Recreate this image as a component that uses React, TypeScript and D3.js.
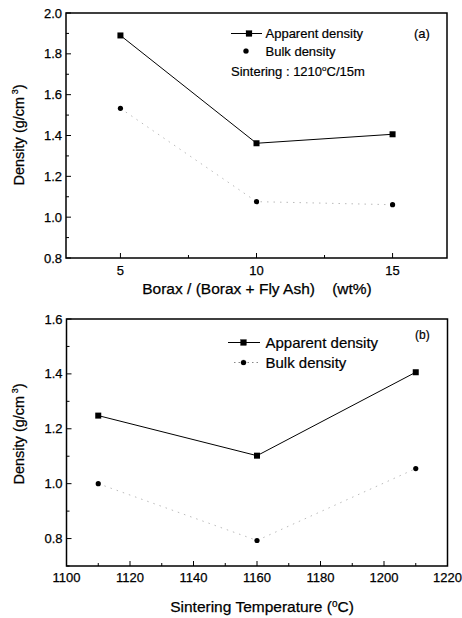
import React from "react";
import * as d3 from "d3";

const boraxX = [5, 10, 15];
const apparentA = [1.89, 1.362, 1.406];
const bulkA = [1.533, 1.076, 1.061];
const xTicksA = [5, 10, 15];
const yTicksA = [0.8, 1.0, 1.2, 1.4, 1.6, 1.8, 2.0];

const tempX = [1110, 1160, 1210];
const apparentB = [1.248, 1.102, 1.406];
const bulkB = [1.0, 0.793, 1.055];
const xTicksB = [1100, 1120, 1140, 1160, 1180, 1200, 1220];
const yTicksB = [0.8, 1.0, 1.2, 1.4, 1.6];

const FONT = "Liberation Sans, Arial, sans-serif";

type PanelProps = {
  x: d3.ScaleLinear<number, number>;
  y: d3.ScaleLinear<number, number>;
  xs: number[];
  app: number[];
  bulk: number[];
  xTicks: number[];
  xMinor: number[];
  yTicks: number[];
  yMinor: number[];
  yFmt: (v: number) => string;
  xLabel: React.ReactNode;
  xLabelY: number;
  xLabelX: number;
  tickLabelY: number;
  yLabelCy: number;
};

function Panel(p: PanelProps) {
  const [x0, x1] = p.x.range();
  const [y0, y1] = p.y.range();
  const line = d3
    .line<number>()
    .x((_, i) => p.x(p.xs[i]))
    .y((d) => p.y(d));
  return (
    <g>
      <rect x={x0} y={y1} width={x1 - x0} height={y0 - y1} fill="none" stroke="#000" strokeWidth={1.5} />
      {p.yTicks.map((t) => (
        <g key={"y" + t}>
          <line x1={x0} x2={x0 + 5} y1={p.y(t)} y2={p.y(t)} stroke="#000" />
          <text x={x0 - 4} y={p.y(t) + 4.5} textAnchor="end" fontSize={13} fontFamily={FONT} stroke="#000" strokeWidth={0.25}>
            {p.yFmt(t)}
          </text>
        </g>
      ))}
      {p.yMinor.map((t) => (
        <line key={"ym" + t} x1={x0} x2={x0 + 3} y1={p.y(t)} y2={p.y(t)} stroke="#000" />
      ))}
      {p.xTicks.map((t) => (
        <g key={"x" + t}>
          <line x1={p.x(t)} x2={p.x(t)} y1={y0} y2={y0 - 5} stroke="#000" />
          <text x={p.x(t)} y={p.tickLabelY} textAnchor="middle" fontSize={13} fontFamily={FONT} stroke="#000" strokeWidth={0.25}>
            {t}
          </text>
        </g>
      ))}
      {p.xMinor.map((t) => (
        <line key={"xm" + t} x1={p.x(t)} x2={p.x(t)} y1={y0} y2={y0 - 3} stroke="#000" />
      ))}
      <path d={line(p.app) || ""} fill="none" stroke="#000" strokeWidth={1} />
      <path d={line(p.bulk) || ""} fill="none" stroke="#bbb" strokeWidth={1} strokeDasharray="1.5,5" />
      {p.app.map((v, i) => (
        <rect key={"a" + i} x={p.x(p.xs[i]) - 3} y={p.y(v) - 3} width={6} height={6} fill="#000" />
      ))}
      {p.bulk.map((v, i) => (
        <circle key={"b" + i} cx={p.x(p.xs[i])} cy={p.y(v)} r={2.6} fill="#000" />
      ))}
      <text x={p.xLabelX} y={p.xLabelY} textAnchor="middle" fontSize={15.5} fontFamily={FONT} xmlSpace="preserve" stroke="#000" strokeWidth={0.25}>
        {p.xLabel}
      </text>
      <text
        transform={`translate(24,${p.yLabelCy}) rotate(-90)`}
        textAnchor="middle"
        fontSize={14.5}
        fontFamily={FONT}
        stroke="#000"
        strokeWidth={0.25}
      >
        Density (g/cm<tspan dy={-6} fontSize={9}> 3</tspan>
        <tspan dy={6}>)</tspan>
      </text>
    </g>
  );
}

export default function App() {
  const xA = d3.scaleLinear().domain([3, 17]).range([66, 447]);
  const yA = d3.scaleLinear().domain([0.8, 2.0]).range([258, 13]);
  const xB = d3.scaleLinear().domain([1100, 1220]).range([66.5, 447.5]);
  const yB = d3.scaleLinear().domain([0.7, 1.6]).range([566, 319]);
  const fmt = d3.format(".1f");
  return (
    <svg width={462} height={618} style={{ position: "absolute", left: 0, top: 0, background: "#fff" }}>
      <Panel
        x={xA}
        y={yA}
        xs={boraxX}
        app={apparentA}
        bulk={bulkA}
        xTicks={xTicksA}
        xMinor={[7.5, 12.5]}
        yTicks={yTicksA}
        yMinor={[0.9, 1.1, 1.3, 1.5, 1.7, 1.9]}
        yFmt={fmt}
        xLabel={"Borax / (Borax + Fly Ash)    (wt%)"}
        xLabelX={257}
        xLabelY={294}
        tickLabelY={275}
        yLabelCy={135}
      />
      <Panel
        x={xB}
        y={yB}
        xs={tempX}
        app={apparentB}
        bulk={bulkB}
        xTicks={xTicksB}
        xMinor={[1110, 1130, 1150, 1170, 1190, 1210]}
        yTicks={yTicksB}
        yMinor={[0.7, 0.9, 1.1, 1.3, 1.5]}
        yFmt={fmt}
        xLabel={
          <>
            Sintering Temperature (<tspan dy={-5} fontSize={10}>o</tspan>
            <tspan dy={5}>C)</tspan>
          </>
        }
        xLabelX={262}
        xLabelY={612}
        tickLabelY={582}
        yLabelCy={434}
      />
      {/* Legend a */}
      <g stroke="#000" strokeWidth={0.2}>
        <line x1={231} x2={262} y1={33.5} y2={33.5} stroke="#000" strokeWidth={1} />
        <rect x={246} y={30.5} width={6} height={6} fill="#000" />
        <text x={265.5} y={38} fontSize={13} fontFamily={FONT}>Apparent density</text>
        <circle cx={246} cy={51} r={2.6} fill="#000" />
        <text x={265.5} y={56} fontSize={13} fontFamily={FONT}>Bulk density</text>
        <text x={231} y={76} fontSize={13} fontFamily={FONT}>
          Sintering : 1210<tspan dy={-5} fontSize={8}>o</tspan>
          <tspan dy={5}>C/15m</tspan>
        </text>
        <text x={414} y={38} fontSize={13} fontFamily={FONT}>(a)</text>
      </g>
      {/* Legend b */}
      <g stroke="#000" strokeWidth={0.2}>
        <line x1={228} x2={260} y1={342.5} y2={342.5} stroke="#000" strokeWidth={1} />
        <rect x={240.5} y={339.5} width={6} height={6} fill="#000" />
        <text x={265.5} y={348} fontSize={15} fontFamily={FONT}>Apparent density</text>
        <line x1={234} x2={258} y1={362.5} y2={362.5} stroke="#888" strokeWidth={1} strokeDasharray="1.5,3" />
        <circle cx={243.5} cy={362.5} r={2.6} fill="#000" />
        <text x={265.5} y={367.5} fontSize={15} fontFamily={FONT}>Bulk density</text>
        <text x={415} y={339} fontSize={12} fontFamily={FONT}>(b)</text>
      </g>
    </svg>
  );
}
